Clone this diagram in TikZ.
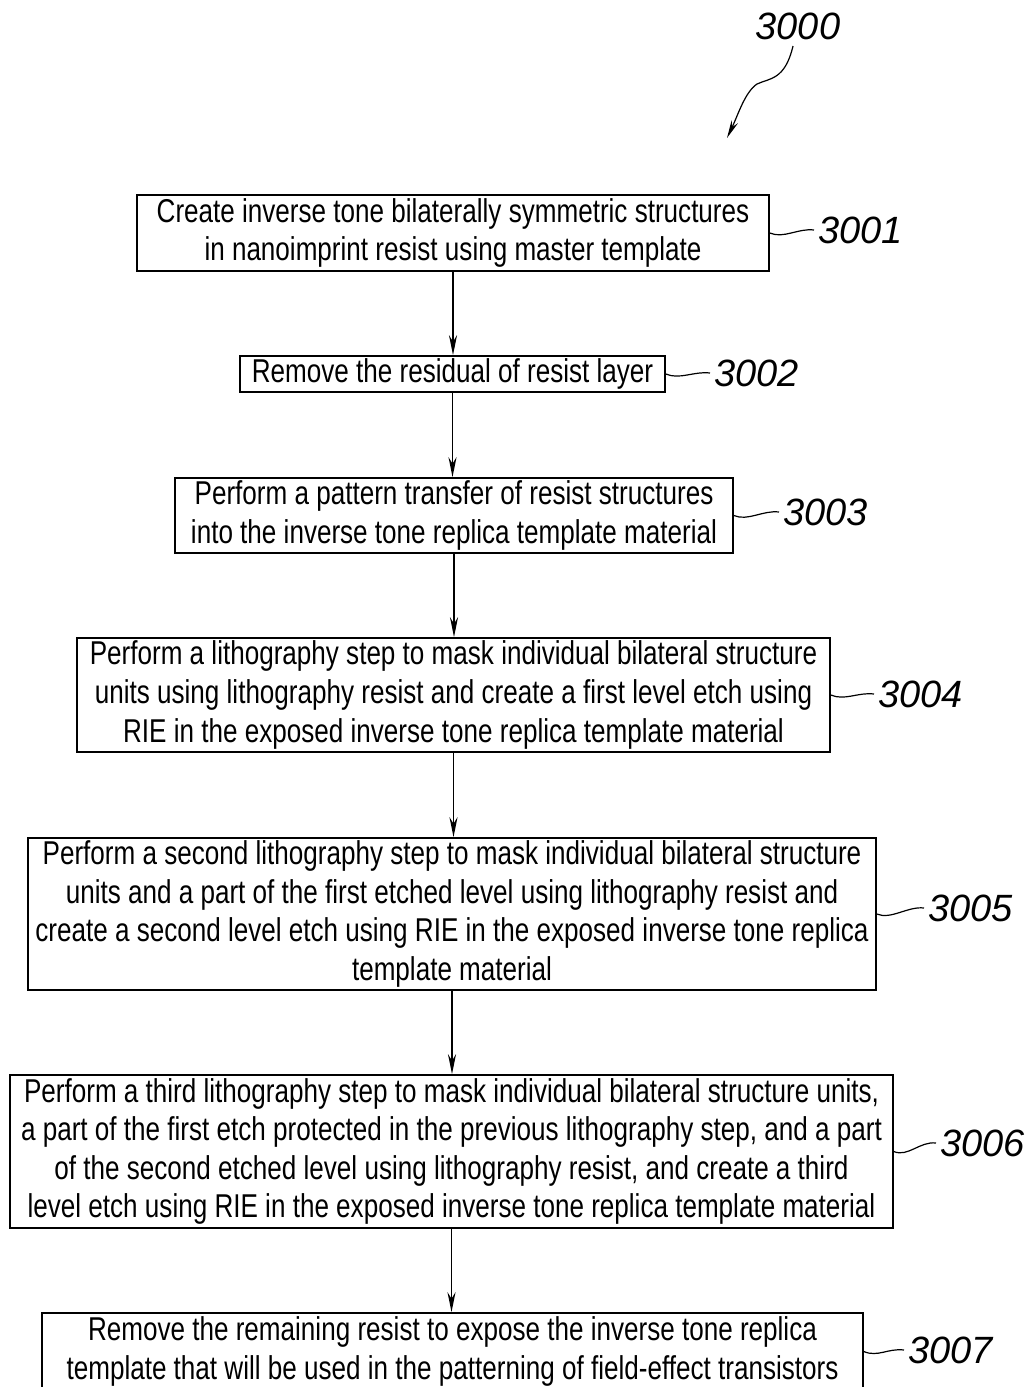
\documentclass[tikz,border=0pt]{standalone}
\usepackage{fontspec}
\setmainfont{Liberation Sans}[FakeStretch=0.79]
\newfontfamily\reffont{Liberation Sans}
\usetikzlibrary{arrows.meta}

\tikzset{
  stepbox/.style={draw, line width=0.8pt, align=center, inner sep=0pt,
    font=\fontsize{16.5}{19.3}\selectfont},
  flow/.style={line width=0.8pt, -{Stealth[length=10pt,width=4pt]}},
  refnum/.style={font=\reffont\itshape\fontsize{19}{19}\selectfont, anchor=west, inner sep=0pt},
  leader/.style={line width=0.6pt}
}

\begin{document}
\begin{tikzpicture}[x=0.5pt,y=-0.5pt]
  \useasboundingbox (0,0) rectangle (1024,1387);
  \clip (0,0) rectangle (1024,1387);

  % process steps
  \node[stepbox, minimum width=316pt, minimum height=38pt] (s1) at (453,233)
    {Create inverse tone bilaterally symmetric structures\\
     in nanoimprint resist using master template};
  \node[stepbox, minimum width=212.5pt, minimum height=18pt] (s2) at (452.5,374)
    {Remove the residual of resist layer};
  \node[stepbox, minimum width=279pt, minimum height=37.5pt] (s3) at (454,515.5)
    {Perform a pattern transfer of resist structures\\
     into the inverse tone replica template material};
  \node[stepbox, minimum width=376.5pt, minimum height=57pt] (s4) at (453.5,695)
    {Perform a lithography step to mask individual bilateral structure\\
     units using lithography resist and create a first level etch using\\
     RIE in the exposed inverse tone replica template material};
  \node[stepbox, minimum width=424pt, minimum height=76pt] (s5) at (452,914)
    {Perform a second lithography step to mask individual bilateral structure\\
     units and a part of the first etched level using lithography resist and\\
     create a second level etch using RIE in the exposed inverse tone replica\\
     template material};
  \node[stepbox, minimum width=441.5pt, minimum height=76.5pt] (s6) at (451.5,1151.5)
    {Perform a third lithography step to mask individual bilateral structure units,\\
     a part of the first etch protected in the previous lithography step, and a part\\
     of the second etched level using lithography resist, and create a third\\
     level etch using RIE in the exposed inverse tone replica template material};
  \node[stepbox, minimum width=410.5pt, minimum height=38.5pt] (s7) at (452.5,1351.5)
    {Remove the remaining resist to expose the inverse tone replica\\
     template that will be used in the patterning of field-effect transistors};

  \foreach \a/\b in {s1/s2,s2/s3,s3/s4,s4/s5,s5/s6,s6/s7}
    \draw[flow] (\a.south) -- (\a.south |- \b.north);

  % reference numerals with wavy leaders
  \node[refnum] (r1) at (818,230) {3001};
  \node[refnum] (r2) at (714,373) {3002};
  \node[refnum] (r3) at (783,512) {3003};
  \node[refnum] (r4) at (878,694) {3004};
  \node[refnum] (r5) at (928,908) {3005};
  \node[refnum] (r6) at (940,1143) {3006};
  \node[refnum] (r7) at (908,1350) {3007};
  \foreach \s/\r in {s1/r1,s2/r2,s3/r3,s4/r4,s5/r5,s6/r6,s7/r7}
    \draw[leader] (\s.east) .. controls +(14,6) and +(-16,-2) .. ([xshift=-2pt]\r.west);

  % figure number
  \node[refnum, anchor=center] (fig) at (798,26) {3000};
  \coordinate (figtip) at (727,138);
  \draw[leader, -{Stealth[length=9pt,width=3.5pt]}] (793,46)
    .. controls (785,80) and (770,78) .. (757,84)
    .. controls (745,92) and (738,115) .. (figtip);
\end{tikzpicture}
\end{document}
